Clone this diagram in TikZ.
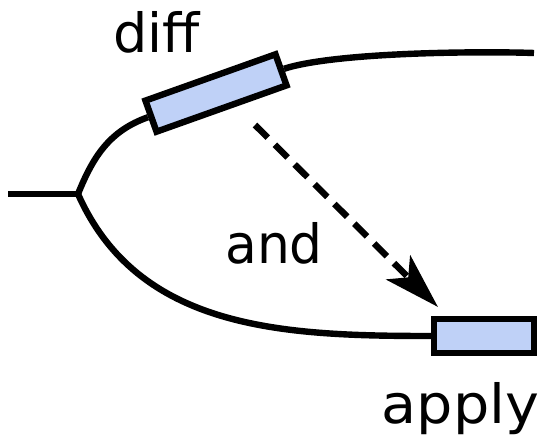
\documentclass[tikz,border=0pt]{standalone}
\usepackage{fontspec}
\setmainfont{DejaVu Sans}
\usetikzlibrary{arrows.meta}
\definecolor{boxfill}{RGB}{191,209,247}
\tikzset{
  wire/.style={line width=6.4pt},
  patchbox/.style={draw, line width=6.4pt, fill=boxfill, inner sep=0pt, outer sep=3.2pt},
  lbl/.style={anchor=base, inner sep=0pt, font=\fontsize{54}{60}\selectfont},
  flow/.style={line width=6.4pt, dash pattern=on 18pt off 10pt,
    -{Stealth[length=56pt, width=34pt, inset=14pt]}},
}
\begin{document}
\begin{tikzpicture}[x=1pt,y=1pt]
  \useasboundingbox (0,0) rectangle (538,-441);
  % points on the branching line
  \coordinate (start) at (8,-194);
  \coordinate (fork) at (78,-194);
  \coordinate (finish) at (534,-53);
  % the two boxes
  \node[patchbox, rotate=19.6, minimum width=138pt, minimum height=33pt] (diffbox) at (216,-93) {};
  \node[patchbox, minimum width=100pt, minimum height=34pt] (applybox) at (484,-336) {};
  % branches
  \draw[wire] (start) -- (fork);
  \draw[wire] (fork) to[out=68, in=199.6] (diffbox.west);
  \draw[wire] (diffbox.east) to[out=18, in=178, looseness=0.55] (finish);
  \draw[wire] (fork) to[out=-66, in=180] (applybox.west);
  % dashed arrow from one box to the other
  \coordinate (src) at (255,-125);
  \coordinate (tip) at (438,-307);
  \draw[flow] (src) -- (tip);
  % labels
  \node[lbl] (difflbl) at (156.5,-53) {diff};
  \node[lbl, xscale=0.96] (andlbl) at (274,-263) {and};
  \node[lbl, xscale=1.06] (applylbl) at (460.5,-423) {apply};
\end{tikzpicture}
\end{document}
